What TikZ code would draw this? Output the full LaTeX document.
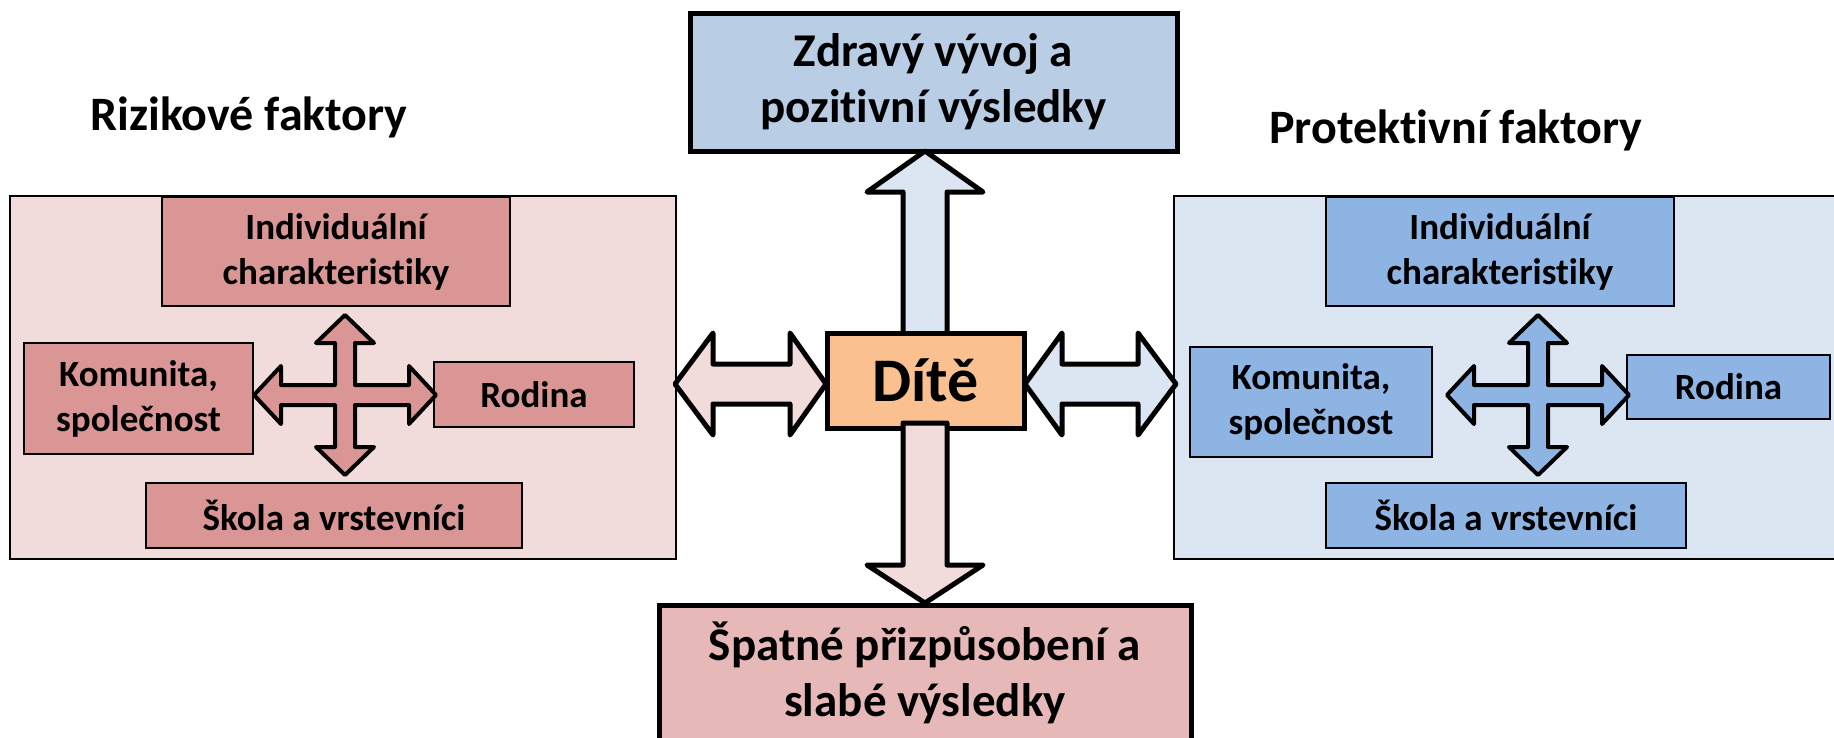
\documentclass[tikz,border=0pt]{standalone}
\usepackage{fontspec}
\setmainfont{Carlito}[Ligatures={NoCommon,NoRare}]
\definecolor{pinkbg}{HTML}{F2DCDB}
\definecolor{pinkmid}{HTML}{E6B9B8}
\definecolor{pinkdark}{HTML}{D99694}
\definecolor{bluebg}{HTML}{DCE6F2}
\definecolor{bluemid}{HTML}{B9CDE5}
\definecolor{bluedark}{HTML}{8EB4E3}
\definecolor{childorange}{HTML}{FAC090}
\newcommand\rectnode[7]{\node[#2, minimum width={#5-#3}, minimum height={#6-#4}] (#1) at ({(#3+#5)/2},{(#4+#6)/2}) {#7};}
\tikzset{
  bigframe/.style={draw=black, line width=1.6pt, fill=#1, inner sep=0pt, outer sep=0pt},
  factor/.style={draw=black, line width=2pt, fill=#1, inner sep=0pt, outer sep=0pt, align=center,
    font=\fontsize{37}{45}\selectfont\bfseries},
  outcome/.style={draw=black, line width=5pt, fill=#1, inner sep=0pt, outer sep=0pt, align=center,
    font=\fontsize{47}{56}\selectfont\bfseries},
  childbox/.style={draw=black, line width=5pt, fill=childorange, inner sep=0pt, outer sep=0pt,
    font=\fontsize{62}{74}\selectfont\bfseries},
  blockarrow/.style={draw=black, line width=5pt, line join=round, fill=#1},
  crossarrow/.style={draw=black, line width=4pt, line join=round, fill=#1},
  heading/.style={font=\fontsize{48}{58}\selectfont\bfseries, anchor=base, inner sep=0pt},
  pics/quad/.style={code={
    \draw[crossarrow=#1] (0,-80) -- (29,-52) -- (10,-52) -- (10,-10) -- (64,-10) -- (64,-29) -- (91,0)
      -- (64,29) -- (64,10) -- (10,10) -- (10,52) -- (29,52) -- (0,80) -- (-29,52) -- (-10,52)
      -- (-10,10) -- (-64,10) -- (-64,29) -- (-91,0) -- (-64,-29) -- (-64,-10) -- (-10,-10)
      -- (-10,-52) -- (-29,-52) -- cycle;
  }}
}
\begin{document}
\begin{tikzpicture}[x=1pt,y=-1pt]
\useasboundingbox (0,0) rectangle (1834,737);
\clip (0,0) rectangle (1834,737);
% frames
\rectnode{riskframe}{bigframe=pinkbg}{10}{196}{676}{559}{}
\rectnode{protframe}{bigframe=bluebg}{1174}{196}{1850}{559}{}
% risk factors
\rectnode{indL}{factor=pinkdark}{162}{197}{510}{306}{Individuální\\charakteristiky}
\rectnode{komL}{factor=pinkdark}{24}{343}{253}{454}{Komunita,\\společnost}
\rectnode{rodL}{factor=pinkdark}{434}{362}{634}{427}{Rodina}
\rectnode{skoL}{factor=pinkdark}{146}{483}{522}{548}{Škola a vrstevníci}
\pic (crossL) at (345,395) {quad=pinkdark};
% protective factors
\rectnode{indR}{factor=bluedark}{1326}{197}{1674}{306}{Individuální\\charakteristiky}
\rectnode{komR}{factor=bluedark}{1190}{347}{1432}{457}{Komunita,\\společnost}
\rectnode{rodR}{factor=bluedark}{1627}{355}{1830}{419}{Rodina}
\rectnode{skoR}{factor=bluedark}{1326}{483}{1686}{548}{Škola a vrstevníci}
\pic (crossR) at (1538,395) {quad=bluedark};
% outcomes
\rectnode{good}{outcome=bluemid}{690}{13}{1177}{151}{Zdravý vývoj a\\pozitivní výsledky}
\rectnode{bad}{outcome=pinkmid}{659}{605}{1191}{740}{Špatné přizpůsobení a\\slabé výsledky}
% arrows
\draw[blockarrow=bluebg] (925,151) -- (983,192) -- (947,192) -- (947,340) -- (903,340) -- (903,192) -- (867,192) -- cycle;
\draw[blockarrow=pinkbg] (675,384) -- (713,333) -- (713,364) -- (790,364) -- (790,333) -- (826,384)
  -- (790,435) -- (790,404) -- (713,404) -- (713,435) -- cycle;
\draw[blockarrow=bluebg] (1025,384) -- (1062,333) -- (1062,364) -- (1138,364) -- (1138,333) -- (1176,384)
  -- (1138,435) -- (1138,404) -- (1062,404) -- (1062,435) -- cycle;
\rectnode{child}{childbox}{827}{333}{1024}{428}{Dítě}
\draw[blockarrow=pinkbg] (903,423) -- (947,423) -- (947,565) -- (983,565) -- (925,603) -- (867,565) -- (903,565) -- cycle;
% headings
\node[heading] (riskhead) at (249,130) {Rizikové faktory};
\node[heading] (prothead) at (1456,143) {Protektivní faktory};
\end{tikzpicture}
\end{document}
